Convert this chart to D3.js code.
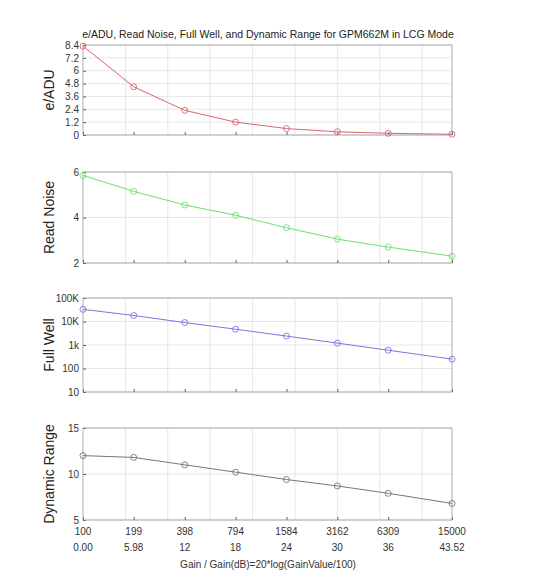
<!DOCTYPE html>
<html><head><meta charset="utf-8">
<script src="https://cdn.jsdelivr.net/npm/d3@7"></script>
<style>body{margin:0;background:#fff;font-family:Arial,"Liberation Sans",sans-serif}</style>
</head><body><svg id="c" width="533" height="583"></svg>
<script>
// gain values and their dB
var gainLabels = ["100","199","398","794","1584","3162","6309","15000"];
var gainDb = [0, 5.98, 12, 18, 24, 30, 36, 43.52];
var dbLabels = ["0.00","5.98","12","18","24","30","36","43.52"];
var eAdu = [8.3, 4.5, 2.3, 1.2, 0.6, 0.3, 0.16, 0.07];
var readNoise = [5.85, 5.15, 4.55, 4.1, 3.55, 3.05, 2.7, 2.3];
var fullWell = [33000, 18000, 9000, 4700, 2400, 1200, 600, 250];
var dynRange = [12.0, 11.8, 11.0, 10.2, 9.4, 8.7, 7.9, 6.8];

var svg = d3.select("#c");
var L = 83, R = 452;
var x = d3.scaleLinear().domain([0, 43.52]).range([L, R]);

svg.append("text").attr("x", 268).attr("y", 38).attr("text-anchor", "middle")
  .attr("font-size", 10.5).attr("fill", "#222")
  .text("e/ADU, Read Noise, Full Well, and Dynamic Range for GPM662M in LCG Mode");

function panel(top, bot, data, y, ticks, fmt, color, label) {
  var g = svg.append("g");
  // grid
  d3.range(5, 43, 5).forEach(function(d) {
    g.append("line").attr("x1", x(d)).attr("x2", x(d)).attr("y1", top).attr("y2", bot)
      .attr("stroke", "#ddd").attr("stroke-width", 0.7);
  });
  ticks.forEach(function(t) {
    g.append("line").attr("x1", L).attr("x2", R).attr("y1", y(t)).attr("y2", y(t))
      .attr("stroke", "#ddd").attr("stroke-width", 0.7);
  });
  g.append("g").attr("transform", "translate(" + L + ",0)")
    .call(d3.axisLeft(y).tickValues(ticks).tickFormat(fmt).tickSize(-3))
    .call(function(a) { a.select(".domain").remove(); a.selectAll("text").attr("font-size", 10).attr("fill", "#333").attr("x", -4); a.selectAll("line").attr("stroke", "#555"); });
  g.append("g").attr("transform", "translate(0," + bot + ")")
    .call(d3.axisBottom(x).tickValues(gainDb).tickFormat("").tickSize(-3))
    .call(function(a) { a.select(".domain").remove(); a.selectAll("line").attr("stroke", "#555"); });
  g.append("rect").attr("x", L).attr("y", top).attr("width", R - L).attr("height", bot - top)
    .attr("fill", "none").attr("stroke", "#999").attr("stroke-width", 0.8);
  g.append("path").datum(data).attr("fill", "none").attr("stroke", color).attr("stroke-width", 1)
    .attr("d", d3.line().x(function(d, i) { return x(gainDb[i]); }).y(function(d) { return y(d); }));
  g.selectAll("circle").data(data).enter().append("circle")
    .attr("cx", function(d, i) { return x(gainDb[i]); }).attr("cy", function(d) { return y(d); })
    .attr("r", 3).attr("fill", "none").attr("stroke", color).attr("stroke-width", 0.9);
  g.append("text").attr("transform", "translate(" + 54 + "," + ((top + bot) / 2) + ") rotate(-90)")
    .attr("text-anchor", "middle").attr("font-size", 14).attr("fill", "#222").text(label);
}

panel(45, 135, eAdu, d3.scaleLinear().domain([0, 8.4]).range([135, 45]),
  [0, 1.2, 2.4, 3.6, 4.8, 6, 7.2, 8.4], function(d) { return d; }, "#d9686e", "e/ADU");
panel(172, 263, readNoise, d3.scaleLinear().domain([2, 6]).range([263, 172]),
  [2, 4, 6], function(d) { return d; }, "#6fe070", "Read Noise");
var fwLabels = {10: "10", 100: "100", 1000: "1k", 10000: "10K", 100000: "100K"};
panel(298, 392, fullWell, d3.scaleLog().domain([10, 100000]).range([392, 298]),
  [10, 100, 1000, 10000, 100000], function(d) { return fwLabels[d]; }, "#7b76e0", "Full Well");
panel(428, 520, dynRange, d3.scaleLinear().domain([5, 15]).range([520, 428]),
  [5, 10, 15], function(d) { return d; }, "#777", "Dynamic Range");

var xl = svg.append("g");
gainDb.forEach(function(d, i) {
  xl.append("text").attr("x", x(d)).attr("y", 535).attr("text-anchor", "middle").attr("font-size", 10).attr("fill", "#333").text(gainLabels[i]);
  xl.append("text").attr("x", x(d)).attr("y", 551).attr("text-anchor", "middle").attr("font-size", 10).attr("fill", "#333").text(dbLabels[i]);
});
svg.append("text").attr("x", 268).attr("y", 568).attr("text-anchor", "middle").attr("font-size", 10).attr("fill", "#333")
  .text("Gain / Gain(dB)=20*log(GainValue/100)");
</script></body></html>
